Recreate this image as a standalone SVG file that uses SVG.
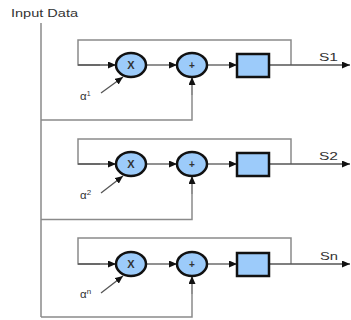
<svg xmlns="http://www.w3.org/2000/svg" width="351" height="320" viewBox="0 0 351 320">
<defs>
<marker id="ah" markerWidth="8" markerHeight="7" refX="8" refY="3.5" orient="auto" markerUnits="userSpaceOnUse">
<path d="M0,0 L8,3.5 L0,7 z" fill="#111"/>
</marker>
<style>
.ln{fill:none;stroke:#8a8a8a;stroke-width:1.5}
.cn{fill:none;stroke:#555;stroke-width:1.3;marker-end:url(#ah)}
.op{fill:#9ccbfa;stroke:#111;stroke-width:2.5}
.sym{font-family:"Liberation Sans",Arial,sans-serif;font-weight:bold;fill:#333;text-anchor:middle}
.lbl{font-family:"Liberation Sans",Arial,sans-serif;fill:#333}
</style>
</defs>
<rect width="351" height="320" fill="#fff"/>
<text class="lbl" x="11" y="17" font-size="10.5" textLength="67" lengthAdjust="spacingAndGlyphs">Input Data</text>
<g id="connectors">
<line class="ln" x1="41" y1="23" x2="41" y2="317"/>
<!-- row 1 -->
<polyline class="ln" points="291,65 291,40 78,40 78,65 100,65"/>
<line class="cn" x1="78" y1="65" x2="116" y2="65"/>
<line class="cn" x1="146" y1="65" x2="177" y2="65"/>
<line class="cn" x1="207" y1="65" x2="237" y2="65"/>
<line class="cn" x1="269" y1="65" x2="350" y2="65"/>
<polyline class="ln" points="41,120 192,120 192,95"/>
<line class="cn" x1="192" y1="95" x2="192" y2="77"/>
<line class="cn" x1="101" y1="93" x2="123" y2="77"/>
<!-- row 2 -->
<polyline class="ln" points="291,164 291,139 78,139 78,164 100,164"/>
<line class="cn" x1="78" y1="164" x2="116" y2="164"/>
<line class="cn" x1="146" y1="164" x2="177" y2="164"/>
<line class="cn" x1="207" y1="164" x2="237" y2="164"/>
<line class="cn" x1="269" y1="164" x2="350" y2="164"/>
<polyline class="ln" points="41,219.5 192,219.5 192,194"/>
<line class="cn" x1="192" y1="194" x2="192" y2="176"/>
<line class="cn" x1="101" y1="193" x2="123" y2="176"/>
<!-- row 3 -->
<polyline class="ln" points="291,264 291,238 78,238 78,264 100,264"/>
<line class="cn" x1="78" y1="264" x2="116" y2="264"/>
<line class="cn" x1="146" y1="264" x2="177" y2="264"/>
<line class="cn" x1="207" y1="264" x2="237" y2="264"/>
<line class="cn" x1="269" y1="264" x2="350" y2="264"/>
<polyline class="ln" points="41,317 192,317 192,294"/>
<line class="cn" x1="192" y1="294" x2="192" y2="276"/>
<line class="cn" x1="101" y1="293" x2="123" y2="276"/>
</g>
<g id="row1">
<g id="mul1"><ellipse class="op" cx="131" cy="65" rx="15" ry="12"/><text class="sym" x="131" y="69" font-size="11">X</text></g>
<g id="add1"><ellipse class="op" cx="192" cy="65" rx="15" ry="12"/><text class="sym" x="192" y="69" font-size="10">+</text></g>
<g id="reg1"><rect class="op" x="237" y="54" width="32" height="23"/></g>
<text class="lbl" x="319" y="61" font-size="11" textLength="19" lengthAdjust="spacingAndGlyphs">S1</text>
<text class="lbl" x="80" y="100" font-size="11.5">α<tspan font-size="7" dy="-4">1</tspan></text>
</g>
<g id="row2">
<g id="mul2"><ellipse class="op" cx="131" cy="164" rx="15" ry="12"/><text class="sym" x="131" y="168" font-size="11">X</text></g>
<g id="add2"><ellipse class="op" cx="192" cy="164" rx="15" ry="12"/><text class="sym" x="192" y="168" font-size="10">+</text></g>
<g id="reg2"><rect class="op" x="237" y="153" width="32" height="23"/></g>
<text class="lbl" x="319" y="160" font-size="11" textLength="19" lengthAdjust="spacingAndGlyphs">S2</text>
<text class="lbl" x="80" y="199" font-size="11.5">α<tspan font-size="8" dy="-4">2</tspan></text>
</g>
<g id="row3">
<g id="mul3"><ellipse class="op" cx="131" cy="264" rx="15" ry="12"/><text class="sym" x="131" y="268" font-size="11">X</text></g>
<g id="add3"><ellipse class="op" cx="192" cy="264" rx="15" ry="12"/><text class="sym" x="192" y="268" font-size="10">+</text></g>
<g id="reg3"><rect class="op" x="237" y="253" width="32" height="23"/></g>
<text class="lbl" x="320" y="260" font-size="11" textLength="18" lengthAdjust="spacingAndGlyphs">Sn</text>
<text class="lbl" x="80" y="298" font-size="11.5">α<tspan font-size="8" dy="-4">n</tspan></text>
</g>
</svg>
